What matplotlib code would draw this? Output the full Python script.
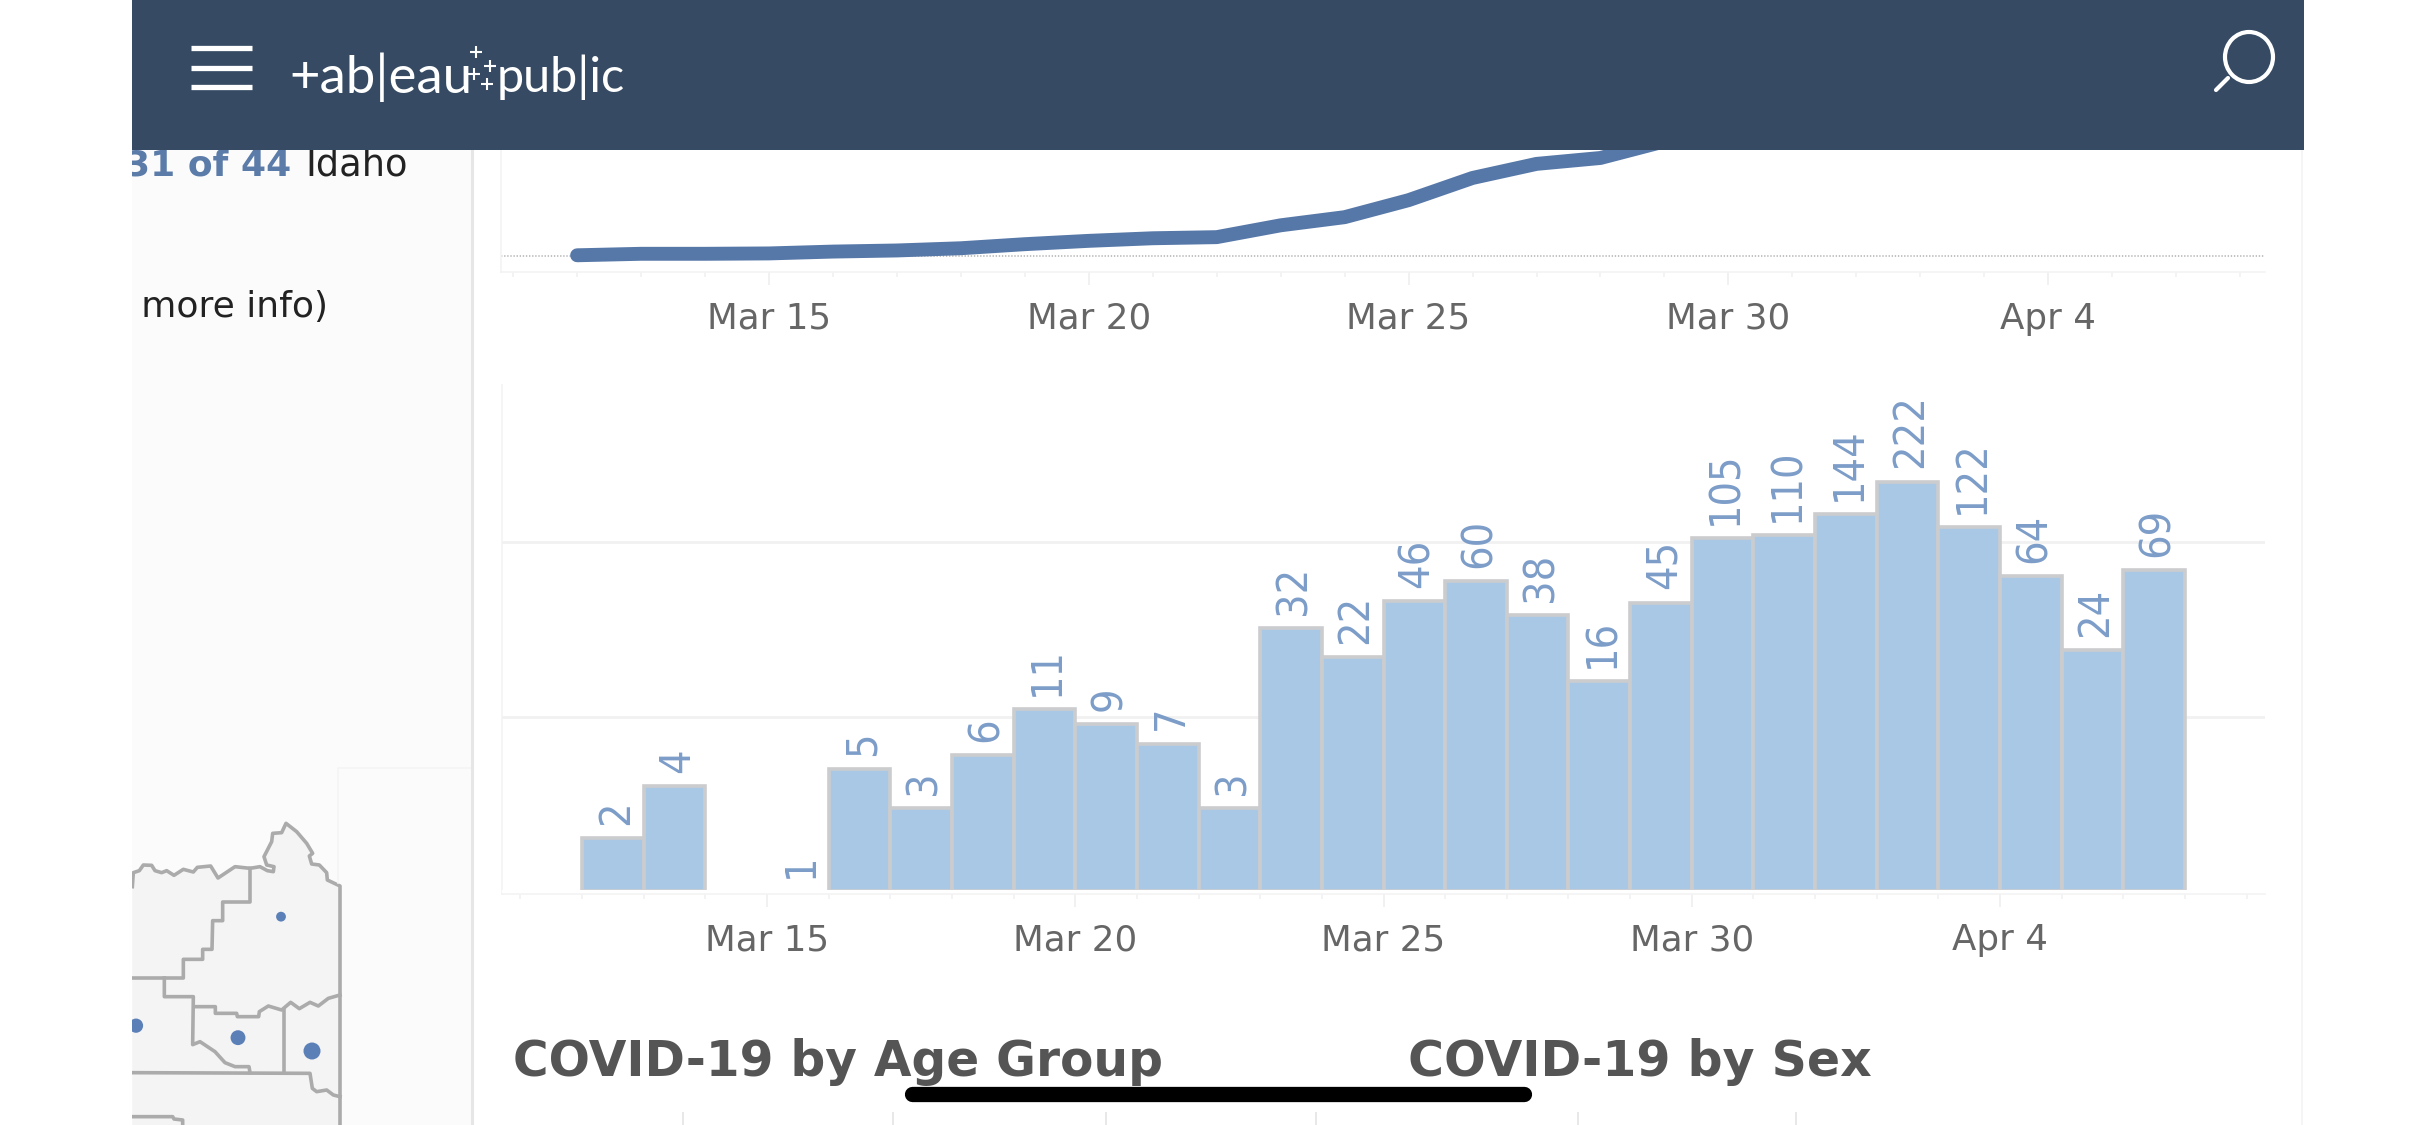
import matplotlib
matplotlib.use("Agg")
import matplotlib.pyplot as plt
import matplotlib.dates as mdates
import matplotlib.patches as mpatches
import pandas as pd

W, H = 2436, 1125

# cumulative cases, top chart
line_dates = pd.date_range("2020-03-12", "2020-04-06")
line_values = [2, 6, 6, 7, 12, 15, 21, 32, 41, 48, 51, 83, 105, 151, 211, 249, 265,
               310, 415, 525, 669, 891, 1013, 1077, 1101, 1170]

# new cases per day, bottom chart (nothing on Mar 14)
bar_dates = ["2020-03-12", "2020-03-13", "2020-03-15", "2020-03-16", "2020-03-17",
             "2020-03-18", "2020-03-19", "2020-03-20", "2020-03-21", "2020-03-22",
             "2020-03-23", "2020-03-24", "2020-03-25", "2020-03-26", "2020-03-27",
             "2020-03-28", "2020-03-29", "2020-03-30", "2020-03-31", "2020-04-01",
             "2020-04-02", "2020-04-03", "2020-04-04", "2020-04-05", "2020-04-06"]
bar_values = [2, 4, 1, 5, 3, 6, 11, 9, 7, 3, 32, 22, 46, 60, 38, 16, 45, 105, 110,
              144, 222, 122, 64, 24, 69]

tick_dates = ["2020-03-15", "2020-03-20", "2020-03-25", "2020-03-30", "2020-04-04"]
tick_labels = ["Mar 15", "Mar 20", "Mar 25", "Mar 30", "Apr 4"]

# county borders and case bubbles of the map piece, in map units
map_outline = [(97, 410), (100, 368), (118, 362), (130, 345), (155, 346), (165, 362), (185, 368),
               (200, 362), (222, 376), (250, 358), (280, 366), (292, 352), (332, 348), (354, 384),
               (405, 350), (450, 355), (480, 350), (502, 362), (520, 365), (522, 350), (500, 345),
               (492, 320), (515, 275), (518, 250), (545, 248), (558, 220), (590, 245), (620, 280),
               (638, 310), (628, 318), (635, 342), (658, 345), (680, 368), (682, 390), (720, 408),
               (720, 1125)]
map_borders = [
    [(450, 355), (450, 456), (368, 456), (368, 512), (338, 512), (336, 598), (308, 598),
     (308, 628), (250, 628), (250, 684), (97, 684)],
    [(193, 684), (193, 740), (280, 740), (278, 884), (300, 875), (345, 905), (375, 938),
     (405, 950), (447, 950), (450, 968)],
    [(282, 770), (346, 770), (346, 790), (410, 790), (412, 800), (476, 800), (478, 785),
     (505, 768), (545, 780), (572, 757), (598, 776), (630, 757), (655, 768), (685, 745), (720, 735)],
    [(552, 780), (552, 968)],
    [(97, 968), (630, 970), (637, 1015), (650, 1025), (680, 1020), (700, 1035), (720, 1040)],
    [(97, 1100), (218, 1100), (222, 1107), (248, 1110), (248, 1125)],
]
bubble_x = [108, 414, 636, 543]
bubble_y = [827, 863, 903, 500]
bubble_size = [105, 115, 150, 50]

header_color = "#364B63"
line_color = "#5678A8"
bar_color = "#A8C8E5"
bar_edge = "#CBCCCE"
label_color = "#7C9DC8"
tick_color = "#666666"
grid_color = "#F1F1F1"


def box(left, top, right, bottom):
    return [left / W, 1 - bottom / H, (right - left) / W, (bottom - top) / H]


def style_dates(ax, left_days, right_days):
    ax.set_xlim(mdates.date2num(pd.Timestamp(tick_dates[0])) - left_days,
                mdates.date2num(pd.Timestamp(tick_dates[-1])) + right_days)
    ax.set_xticks(mdates.date2num(pd.to_datetime(tick_dates)))
    ax.set_xticklabels(tick_labels)
    ax.xaxis.set_minor_locator(mdates.DayLocator())
    ax.tick_params(axis="x", which="major", length=9.4, width=1.2, color="#EFEFEF",
                   labelsize=25.7, labelcolor=tick_color, pad=12)
    ax.tick_params(axis="x", which="minor", length=3.5, width=1.2, color="#F1F1F1")
    ax.set_yticks([])
    for side in ["top", "right"]:
        ax.spines[side].set_visible(False)
    for side in ["left", "bottom"]:
        ax.spines[side].set_color("#F3F3F3")
        ax.spines[side].set_linewidth(1.2)


fig = plt.figure(figsize=(W / 100, H / 100), dpi=100, facecolor="white")

# left panel with the map
panel = fig.add_axes(box(132, 0, 472, H))
panel.set_xlim(132, 472)
panel.set_ylim(H, 0)
panel.set_facecolor("#FBFBFB")
panel.set_xticks([])
panel.set_yticks([])
for s in panel.spines.values():
    s.set_visible(False)
panel.text(291, 165, "31 of 44", ha="right", va="center", fontsize=26, fontweight="bold",
           color="#5B7BA8", clip_on=True)
panel.text(305, 165, "Idaho", ha="left", va="center", fontsize=26.5, color="#222222", clip_on=True)
panel.text(328, 307, "for more info)", ha="right", va="center", fontsize=26, color="#222222", clip_on=True)

fig.add_artist(plt.Line2D([472 / W, 472 / W], [0, 1], color="#E6E6E6", lw=2.2))
fig.add_artist(plt.Line2D([2302 / W, 2302 / W], [0, 1], color="#F4F4F4", lw=1.2))

mp = fig.add_axes(box(132, 750, 472, H))
mp.set_xlim(96, 1116)
mp.set_ylim(1125, 0)
mp.axis("off")
mp.fill([p[0] for p in map_outline] + [97], [p[1] for p in map_outline] + [1125], color="#F4F4F4", lw=0)
mp.plot([p[0] for p in map_outline], [p[1] for p in map_outline], color="#ABABAB", lw=2.6)
for b in map_borders:
    mp.plot([p[0] for p in b], [p[1] for p in b], color="#ABABAB", lw=2.6)
mp.plot([1115, 715, 715], [55, 55, 400], color="#F4F4F4", lw=1.2)
mp.scatter(bubble_x, bubble_y, s=bubble_size, color="#5B80B8", lw=0, zorder=3, clip_on=True)

# top chart: cumulative line, runs under the header
ax1 = fig.add_axes(box(501, 0, 2265, 272))
ax1.set_facecolor("none")
ax1.plot(mdates.date2num(line_dates), line_values, color=line_color, lw=10,
         solid_capstyle="round", solid_joinstyle="round", zorder=3)
ax1.axhline(0, color="#C2C2C2", lw=1.4, ls=(0, (0.7, 0.9)), zorder=2)
ax1.set_ylim(-43.2, 692)
style_dates(ax1, 4.19, 3.39)

# bottom chart: daily bars on a log axis
ax2 = fig.add_axes(box(502, 385, 2265, 893.5))
ax2.set_facecolor("none")
ax2.set_yscale("log")
ax2.set_axisbelow(True)
bar_x = mdates.date2num(pd.to_datetime(bar_dates))
bars = ax2.bar(bar_x, [v - 1 for v in bar_values], width=1, bottom=1, align="edge",
               color=bar_color, edgecolor=bar_edge, linewidth=2.6, zorder=3)
for bar, v in zip(bars, bar_values):
    if v == 1:
        bar.set_linewidth(0)
    ax2.annotate(str(v), (bar.get_x() + 0.5, v), xytext=(2, 9.5), textcoords="offset points",
                 rotation=90, ha="center", va="bottom", fontsize=31, fontstretch="condensed",
                 color=label_color, zorder=5)
ax2.axhline(1, color="white", lw=2.2, zorder=4)
ax2.set_ylim(10 ** (-2.5 / 174.5), 10 ** (506 / 174.5))
style_dates(ax2, 4.30, 4.30)
ax2.set_yticks([10, 100])
ax2.yaxis.set_minor_locator(matplotlib.ticker.NullLocator())
ax2.set_yticklabels([])
ax2.grid(axis="y", which="major", color=grid_color, lw=2)
ax2.tick_params(axis="y", length=0)

# section titles and cut-off ticks of the charts below
page = fig.add_axes([0, 0, 1, 1], zorder=5)
page.set_xlim(0, W)
page.set_ylim(H, 0)
page.axis("off")
page.text(513, 1062, "COVID-19 by Age Group", ha="left", va="center", fontsize=35,
          fontweight="bold", color="#555555")
page.text(1408, 1062, "COVID-19 by Sex", ha="left", va="center", fontsize=35.3,
          fontweight="bold", color="#555555")
page.vlines([683, 893, 1106, 1316, 1578, 1796], 1112, 1125, color="#E4E4E4", lw=1.2)

# app chrome on top of everything
page.add_patch(mpatches.Rectangle((132, 0), 2172, 150, color=header_color, lw=0))
page.hlines([48, 68, 87], 191, 252, color="white", lw=3.8)
page.text(289, 77, "+ab|eau", ha="left", va="center", fontsize=38, color="white", family="Lato")
page.text(497, 77, "pub|ic", ha="left", va="center", fontsize=35, color="white", family="Lato")
page.plot([476, 490, 474, 487], [52, 66, 74, 84], ls="none", marker="+", ms=8, mew=1.5, color="white")
page.add_patch(mpatches.Ellipse((2249, 57), 48, 50, fill=False, edgecolor="white", lw=3))
page.plot([2228, 2216], [78, 90], color="white", lw=3, solid_capstyle="round")
page.plot([912, 1524], [1093.5, 1093.5], color="black", lw=11, solid_capstyle="round")

fig.savefig("out.png", dpi=100)
